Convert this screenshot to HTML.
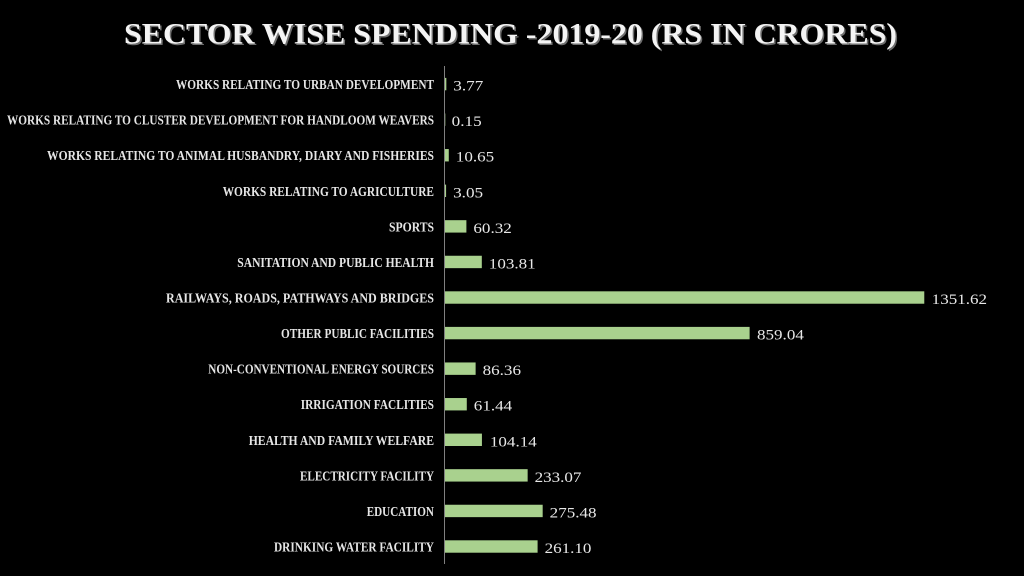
<!DOCTYPE html>
<html><head><meta charset="utf-8"><style>
html,body{margin:0;padding:0;background:#000;}
svg{display:block;}
.cat{font-family:"Liberation Serif",serif;font-weight:bold;font-size:13.5px;fill:#e6e6e6;}
.val{font-family:"Liberation Serif",serif;font-size:15px;fill:#e8e8e8;}
.ttl{font-family:"Liberation Serif",serif;font-weight:bold;font-size:30px;}
</style></head><body>
<svg width="1024" height="576" viewBox="0 0 1024 576" xmlns="http://www.w3.org/2000/svg">
<rect width="1024" height="576" fill="#000"/>
<text class="ttl" x="125.5" y="44.8" textLength="773" lengthAdjust="spacingAndGlyphs" fill="#6e6e6e">SECTOR WISE SPENDING -2019-20 (RS IN CRORES)</text>
<text class="ttl" x="124" y="43.3" textLength="773" lengthAdjust="spacingAndGlyphs" fill="#f4f4f4">SECTOR WISE SPENDING -2019-20 (RS IN CRORES)</text>

<g fill="#a9d18e">
<rect x="445" y="77.9" width="1.34" height="12.4"/>
<rect x="445" y="113.47" width="0.3" height="12.4"/>
<rect x="445" y="149.04" width="3.78" height="12.4"/>
<rect x="445" y="184.61" width="1.08" height="12.4"/>
<rect x="445" y="220.18" width="21.39" height="12.4"/>
<rect x="445" y="255.75" width="36.81" height="12.4"/>
<rect x="445" y="291.32" width="479.28" height="12.4"/>
<rect x="445" y="326.89" width="304.62" height="12.4"/>
<rect x="445" y="362.46" width="30.62" height="12.4"/>
<rect x="445" y="398.03" width="21.79" height="12.4"/>
<rect x="445" y="433.6" width="36.93" height="12.4"/>
<rect x="445" y="469.17" width="82.65" height="12.4"/>
<rect x="445" y="504.74" width="97.68" height="12.4"/>
<rect x="445" y="540.31" width="92.59" height="12.4"/>
</g>
<line x1="444.5" y1="66" x2="444.5" y2="564" stroke="#808080" stroke-width="1"/>

<g class="cat">
<text x="176" y="89.1" textLength="258" lengthAdjust="spacingAndGlyphs">WORKS RELATING TO URBAN DEVELOPMENT</text>
<text x="7" y="124.67" textLength="427" lengthAdjust="spacingAndGlyphs">WORKS RELATING TO CLUSTER DEVELOPMENT FOR HANDLOOM WEAVERS</text>
<text x="47" y="160.24" textLength="387" lengthAdjust="spacingAndGlyphs">WORKS RELATING TO ANIMAL HUSBANDRY, DIARY AND FISHERIES</text>
<text x="222.7" y="195.81" textLength="211.3" lengthAdjust="spacingAndGlyphs">WORKS RELATING TO AGRICULTURE</text>
<text x="389" y="231.38" textLength="45" lengthAdjust="spacingAndGlyphs">SPORTS</text>
<text x="237.3" y="266.95" textLength="196.7" lengthAdjust="spacingAndGlyphs">SANITATION AND PUBLIC HEALTH</text>
<text x="166" y="302.52" textLength="268" lengthAdjust="spacingAndGlyphs">RAILWAYS, ROADS, PATHWAYS AND BRIDGES</text>
<text x="281" y="338.09" textLength="153" lengthAdjust="spacingAndGlyphs">OTHER PUBLIC FACILITIES</text>
<text x="208.3" y="373.66" textLength="225.7" lengthAdjust="spacingAndGlyphs">NON-CONVENTIONAL ENERGY SOURCES</text>
<text x="300.7" y="409.23" textLength="133.3" lengthAdjust="spacingAndGlyphs">IRRIGATION FACLITIES</text>
<text x="248.7" y="444.8" textLength="185.3" lengthAdjust="spacingAndGlyphs">HEALTH AND FAMILY WELFARE</text>
<text x="300" y="480.37" textLength="134" lengthAdjust="spacingAndGlyphs">ELECTRICITY FACILITY</text>
<text x="366.7" y="515.94" textLength="67.3" lengthAdjust="spacingAndGlyphs">EDUCATION</text>
<text x="274" y="551.51" textLength="160" lengthAdjust="spacingAndGlyphs">DRINKING WATER FACILITY</text>
</g>

<g class="val">
<text x="453.3" y="90.6" textLength="30" lengthAdjust="spacingAndGlyphs">3.77</text>
<text x="451.7" y="126.17" textLength="30" lengthAdjust="spacingAndGlyphs">0.15</text>
<text x="455.8" y="161.74" textLength="38.4" lengthAdjust="spacingAndGlyphs">10.65</text>
<text x="453.1" y="197.31" textLength="30" lengthAdjust="spacingAndGlyphs">3.05</text>
<text x="473.4" y="232.88" textLength="38.4" lengthAdjust="spacingAndGlyphs">60.32</text>
<text x="488.8" y="268.45" textLength="46.85" lengthAdjust="spacingAndGlyphs">103.81</text>
<text x="931.7" y="304.02" textLength="55.3" lengthAdjust="spacingAndGlyphs">1351.62</text>
<text x="757" y="339.59" textLength="46.85" lengthAdjust="spacingAndGlyphs">859.04</text>
<text x="482.6" y="375.16" textLength="38.4" lengthAdjust="spacingAndGlyphs">86.36</text>
<text x="473.8" y="410.73" textLength="38.4" lengthAdjust="spacingAndGlyphs">61.44</text>
<text x="489.9" y="446.3" textLength="46.85" lengthAdjust="spacingAndGlyphs">104.14</text>
<text x="534.6" y="481.87" textLength="46.85" lengthAdjust="spacingAndGlyphs">233.07</text>
<text x="549.7" y="517.44" textLength="46.85" lengthAdjust="spacingAndGlyphs">275.48</text>
<text x="544.6" y="553.01" textLength="46.85" lengthAdjust="spacingAndGlyphs">261.10</text>
</g>
</svg>
</body></html>
